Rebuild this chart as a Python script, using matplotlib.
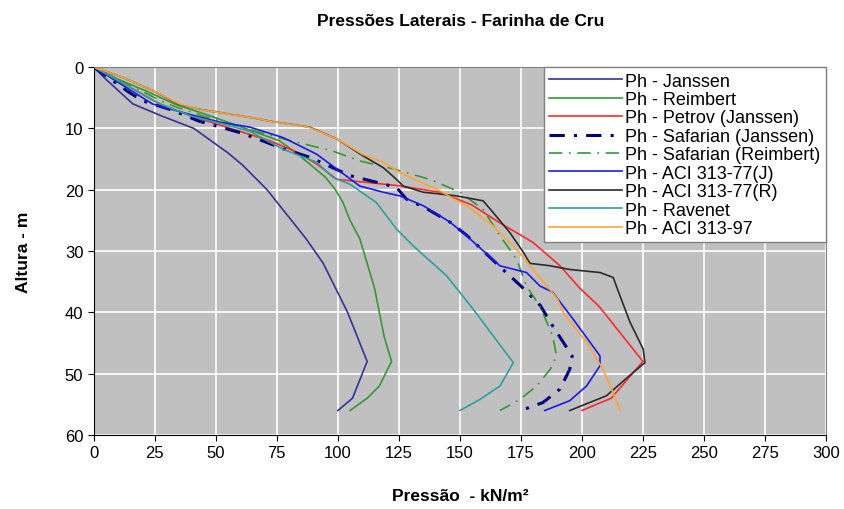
import matplotlib
matplotlib.use("Agg")
import matplotlib.pyplot as plt

plt.rcParams['font.family'] = ['Liberation Sans', 'DejaVu Sans']

# depth (m) and lateral pressure (kN/m2) for each method
z_janssen = [0, 2, 4, 6, 8, 10, 12, 14, 16, 18, 20, 24, 28, 32, 36, 40, 44, 48, 54, 56]
p_janssen = [0, 5, 10.5, 16, 28, 41, 48, 55, 61, 66, 71, 79, 87, 94, 99, 104, 108, 112, 106, 100]

z_reimbert = [0, 2, 4, 6, 8, 10, 12, 14, 16, 18, 20, 22, 25, 28, 32, 36, 40, 44, 48, 52, 54, 56]
p_reimbert = [0, 10, 22, 33, 48, 62, 76, 83, 89, 95, 99, 102, 105, 109, 112, 115, 117, 119, 122, 117, 112, 105]

z_petrov = [0, 2, 4, 6, 8, 10, 12, 14, 16, 18.3, 19.3, 20.4, 22.5, 25.3, 28.6, 32.4, 36, 39, 42, 45, 48, 54, 56]
p_petrov = [0, 9, 18, 27, 40, 56, 72, 84, 92, 99.5, 124, 142, 155, 166, 180, 191, 199, 207, 213, 219, 225, 212, 200]

z_saf_j = [0, 2, 4, 5.5, 7, 8.8, 10.7, 12, 13.4, 14.7, 17.7, 19.6, 21.5, 23, 25.3, 27.5, 32.4, 35.7, 38.9, 42.2, 47.1, 49.3, 52.5, 54.7, 56]
p_saf_j = [0, 7, 14, 20, 32, 43, 60, 69, 78, 88.5, 105, 124, 128, 136, 146, 153, 166, 175, 183, 188, 196, 195, 191, 184, 175]

z_saf_r = [0, 2, 4, 6, 8, 10, 11.7, 13.7, 15.3, 16.6, 18.3, 20.4, 23.2, 27.5, 31.3, 35.7, 39, 43.8, 47.1, 49.3, 52, 54.2, 56]
p_saf_r = [0, 10, 20, 30, 45, 62, 77.6, 98, 109, 122.6, 137.7, 150, 159.5, 166.4, 173.2, 177.3, 182.8, 188, 189.6, 187, 181.4, 174.6, 166.4]

z_aci77j = [0, 2, 4, 6, 7.8, 9, 9.8, 11.5, 14.2, 16.6, 19.4, 20.4, 21, 22.6, 25.3, 27.5, 32.4, 33.5, 35.7, 36.7, 38.9, 41.1, 47.1, 48.7, 52, 54.4, 56]
p_aci77j = [0, 8, 16, 24, 40, 52, 64, 77.6, 91.3, 99.5, 109, 118.6, 125.4, 135, 146, 152.7, 166.4, 177.3, 182.8, 188, 192.2, 196.4, 207.4, 207.4, 201.9, 195, 184.8]

z_aci77r = [0, 1.7, 3.8, 6.1, 6.9, 8.2, 8.8, 9.8, 11.7, 14.5, 16.4, 18.3, 19.4, 20.4, 21, 21.8, 23.7, 27, 30.2, 32, 32.4, 33, 33.5, 34.3, 37.3, 41.6, 46, 48.2, 49.8, 53.6, 56]
p_aci77r = [0, 12, 24, 35, 43.4, 64, 72, 88.5, 99.5, 110.4, 118.6, 124, 126.8, 135, 148.6, 159.5, 163.6, 170.5, 176, 178.7, 187, 195, 207.4, 212.8, 215.6, 219.7, 225.1, 225.8, 221, 210, 195]

z_ravenet = [0, 2, 4, 6, 8, 9.5, 10.5, 13.4, 15.5, 18, 19.1, 22.1, 26.4, 29.2, 34, 39.5, 43.8, 48.2, 52, 54.2, 56]
p_ravenet = [0, 9, 18, 27, 40, 55, 64, 77.6, 91.3, 98, 105, 115.8, 124, 131, 144.5, 155.5, 163.6, 171.9, 166.4, 158.2, 150]

z_aci97 = [0, 1.7, 3.8, 6, 6.9, 8.2, 8.8, 9.8, 11.7, 14.2, 15.5, 17.2, 20.2, 22.6, 25.9, 29.7, 33, 37.8, 40, 44.9, 49.3, 53.1, 56]
p_aci97 = [0, 12, 24, 35, 43, 64, 72, 88, 99.5, 110, 118.6, 125.4, 141.8, 152.7, 163.6, 173.2, 180, 190, 192.3, 201.9, 208.7, 212.8, 215.6]

x_ticks = list(range(0, 301, 25))
y_ticks = list(range(0, 61, 10))

fig = plt.figure(figsize=(8.45, 5.1), dpi=100)
ax = fig.add_axes([0.111, 0.145, 0.8665, 0.7215])
ax.set_facecolor('#c0c0c0')

ax.plot(p_janssen, z_janssen, color='#333399', lw=1.2, label='Ph - Janssen')
ax.plot(p_reimbert, z_reimbert, color='#339933', lw=1.2, label='Ph - Reimbert')
ax.plot(p_petrov, z_petrov, color='#ff2a2a', lw=1.2, label='Ph - Petrov (Janssen)')
ax.plot(p_saf_j, z_saf_j, color='#000080', lw=2.2, ls=(0, (5, 3, 1, 3)), label='Ph - Safarian (Janssen)')
ax.plot(p_saf_r, z_saf_r, color='#339933', lw=1.2, ls=(0, (8, 4, 1, 4)), label='Ph - Safarian (Reimbert)')
ax.plot(p_aci77j, z_aci77j, color='#1a1aee', lw=1.2, label='Ph - ACI 313-77(J)')
ax.plot(p_aci77r, z_aci77r, color='#2b2b2b', lw=1.2, label='Ph - ACI 313-77(R)')
ax.plot(p_ravenet, z_ravenet, color='#2f9f9f', lw=1.2, label='Ph - Ravenet')
ax.plot(p_aci97, z_aci97, color='#ffa533', lw=1.2, label='Ph - ACI 313-97')

ax.set_xlim(0, 300)
ax.set_ylim(60, 0)
ax.set_xticks(x_ticks)
ax.set_yticks(y_ticks)
ax.grid(True, color='white', lw=1.2)
ax.set_axisbelow(True)
ax.tick_params(labelsize=12, length=4, direction='out', color='black')
for s in ['top', 'right']:
    ax.spines[s].set_color('#808080')
for s in ['left', 'bottom']:
    ax.spines[s].set_color('black')

ax.set_xlabel('Pressão  - kN/m²', fontsize=12.5, fontweight='bold', labelpad=20)
ax.set_ylabel('Altura - m', fontsize=12.5, fontweight='bold', labelpad=24)
fig.text(0.545, 0.958, 'Pressões Laterais - Farinha de Cru', fontsize=12.5,
         fontweight='bold', ha='center', va='center')

leg = ax.legend(loc='upper right', fontsize=13, frameon=True, fancybox=False,
                framealpha=1, edgecolor='#808080', borderaxespad=0,
                labelspacing=0.08, handlelength=4.0, handletextpad=0.2,
                borderpad=0.3)
leg.get_frame().set_linewidth(1.0)

fig.savefig('out.png', dpi=100)
